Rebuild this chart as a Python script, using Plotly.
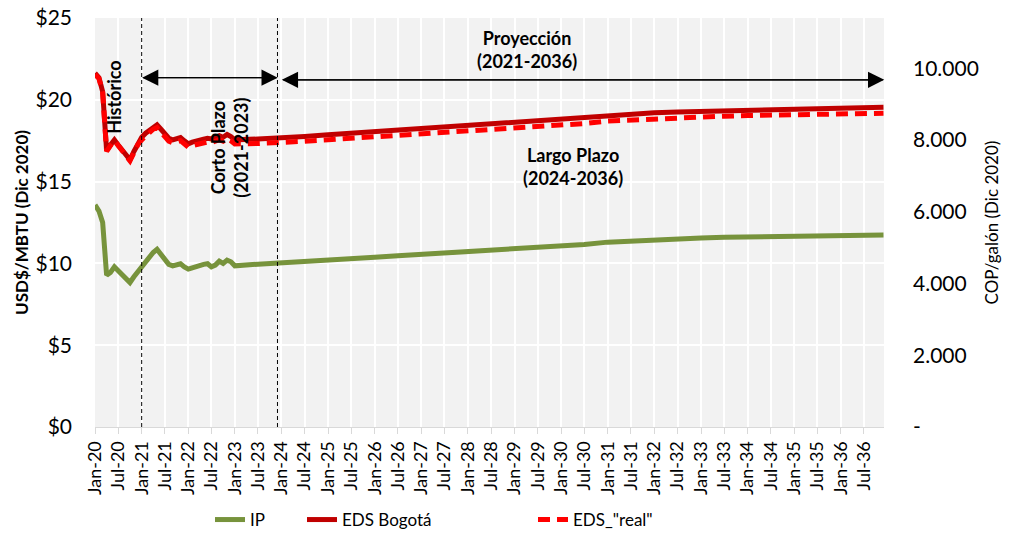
import plotly.graph_objects as go

# ---- data ----
fechas = [
    "2020-01-01", "2020-02-01", "2020-03-01", "2020-04-01", "2020-05-01", "2020-06-01",
    "2020-07-01", "2020-08-01", "2020-09-01", "2020-10-01", "2020-11-01", "2020-12-01",
    "2021-01-01", "2021-02-01", "2021-03-01", "2021-04-01", "2021-05-01", "2021-06-01",
    "2021-07-01", "2021-08-01", "2021-09-01", "2021-10-01", "2021-11-01", "2021-12-01",
    "2022-01-01", "2022-02-01", "2022-03-01", "2022-04-01", "2022-05-01", "2022-06-01",
    "2022-07-01", "2022-08-01", "2022-09-01", "2022-10-01", "2022-11-01", "2022-12-01",
    "2023-01-01", "2023-07-01",
    "2024-01-01", "2024-07-01", "2025-01-01", "2025-07-01", "2026-01-01", "2026-07-01",
    "2027-01-01", "2027-07-01", "2028-01-01", "2028-07-01", "2029-01-01", "2029-07-01",
    "2030-01-01", "2030-07-01", "2031-01-01", "2031-07-01", "2032-01-01", "2032-07-01",
    "2033-01-01", "2033-07-01", "2034-01-01", "2034-07-01", "2035-01-01", "2035-07-01",
    "2036-01-01", "2036-07-01", "2036-12-01",
]

# IP, USD$/MBTU (left axis)
ip = [
    13.57, 13.20, 12.50, 9.28, 9.45, 9.79, 9.55, 9.28, 9.05, 8.83, 9.18, 9.50,
    9.79, 10.10, 10.40, 10.67, 10.86, 10.55, 10.20, 9.94, 9.85, 9.90, 9.98, 9.79,
    9.65, 9.73, 9.81, 9.85, 9.94, 9.98, 9.79, 9.90, 10.14, 10.00, 10.20, 10.10,
    9.85, 9.95,
    10.05, 10.13, 10.22, 10.30, 10.38, 10.46, 10.54, 10.63, 10.72, 10.80, 10.89, 10.97,
    11.06, 11.16, 11.30, 11.38, 11.45, 11.51, 11.56, 11.60, 11.63, 11.65, 11.68, 11.70,
    11.72, 11.73, 11.74,
]

# EDS Bogotá, COP/galón (right axis)
eds_bogota = [
    9863, 9736, 9348, 7706, 7861, 8003, 7861, 7725, 7583, 7446, 7679, 7912,
    8076, 8190, 8263, 8377, 8422, 8299, 8172, 8048, 8003, 8021, 8067, 7975,
    7893, 7939, 7975, 7985, 8021, 8048, 8030, 8076, 8117, 8076, 8153, 8094,
    8003, 8026,
    8053, 8099, 8144, 8190, 8235, 8276, 8322, 8363, 8404, 8450, 8491, 8536,
    8582, 8632, 8700, 8732, 8760, 8783, 8801, 8819, 8837, 8851, 8865, 8878,
    8892, 8906, 8915,
]

# EDS_"real", COP/galón (right axis)
eds_real = [
    9827, 9713, 9325, 7684, 7843, 7980, 7843, 7697, 7556, 7419, 7643, 7866,
    8003, 8117, 8190, 8299, 8345, 8217, 8089, 7966, 7921, 7934, 7980, 7889,
    7798, 7843, 7875, 7880, 7916, 7944, 7925, 7966, 8007, 7966, 8044, 7980,
    7889, 7902,
    7925, 7966, 8007, 8048, 8089, 8126, 8162, 8199, 8235, 8272, 8308, 8354,
    8404, 8459, 8527, 8559, 8591, 8618, 8641, 8664, 8682, 8696, 8710, 8723,
    8732, 8742, 8746,
]

left_ticks = [0, 5, 10, 15, 20, 25]
left_labels = ["$0", "$5", "$10", "$15", "$20", "$25"]
right_ticks = [0, 2000, 4000, 6000, 8000, 10000]
right_labels = ["-", "2.000", "4.000", "6.000", "8.000", "10.000"]

FONT = "Lato, 'Liberation Sans', sans-serif"

W, H = 1010, 550

fig = go.Figure()
fig.add_trace(go.Scatter(x=fechas, y=ip, name="IP", mode="lines",
                         line=dict(color="#77933C", width=5), legend="legend"))
fig.add_trace(go.Scatter(x=fechas, y=eds_bogota, name="EDS Bogotá", mode="lines",
                         yaxis="y2", line=dict(color="#C00000", width=5),
                         legend="legend2"))
fig.add_trace(go.Scatter(x=fechas, y=eds_real, name='EDS_"real"', mode="lines",
                         yaxis="y2", line=dict(color="#FF0000", width=5, dash="12px,7px"),
                         legend="legend3"))

# vertical dashed separators
for xd in ["2021-01-01", "2023-12-01"]:
    fig.add_shape(type="line", xref="x", yref="paper", x0=xd, x1=xd, y0=0, y1=1,
                  line=dict(color="black", width=1, dash="4px,3px"))

# double arrows
def double_arrow(xa, xb, yv):
    for tip, tail in ((xa, xb), (xb, xa)):
        fig.add_annotation(x=tip, y=yv, ax=tail, ay=yv, xref="x", yref="y",
                           axref="x", ayref="y", text="", showarrow=True,
                           arrowhead=2, arrowsize=2.5, arrowwidth=1.3,
                           arrowcolor="black", standoff=0, startstandoff=0)

double_arrow("2019-11-07", "2020-12-19", 25.2)
double_arrow("2020-12-19", "2036-12-07", 25.2)
double_arrow("2021-01-04", "2023-12-03", 21.35)
double_arrow("2024-01-04", "2036-12-07", 21.22)

txt = dict(font=dict(family=FONT, size=18, color="black"), showarrow=False,
           xref="x", yref="y")
fig.add_annotation(x="2020-05-28", y=20.18, text="<b>Histórico</b>", textangle=-90, **txt)
fig.add_annotation(x="2022-11-22", y=17.06, text="<b>Corto Plazo<br>(2021-2023)</b>",
                   textangle=-90, **txt)
fig.add_annotation(x="2029-04-12", y=23.09, text="<b>Proyección<br>(2021-2036)</b>", **txt)
fig.add_annotation(x="2030-04-07", y=15.93, text="<b>Largo Plazo<br>(2024-2036)</b>", **txt)

legend_common = dict(orientation="h", yanchor="middle", y=1 - 520 / H, yref="container",
                     xanchor="left", xref="container",
                     font=dict(family=FONT, size=17, color="black"),
                     bgcolor="rgba(0,0,0,0)")

fig.update_layout(
    width=W, height=H,
    margin=dict(l=95, r=126, t=18, b=123, autoexpand=False),
    paper_bgcolor="white", plot_bgcolor="#F2F2F2",
    font=dict(family=FONT, color="black"),
    showlegend=True,
    legend=dict(x=210 / W, **legend_common),
    legend2=dict(x=302 / W, **legend_common),
    legend3=dict(x=533 / W, **legend_common),
    xaxis=dict(type="date", range=["2020-01-01", "2036-12-05"], automargin=False,
               tick0="2020-01-01", dtick="M6", tickformat="%b-%y", tickangle=-90,
               tickfont=dict(family=FONT, size=18, color="black"),
               showgrid=True, gridcolor="white", gridwidth=2,
               showline=True, linecolor="#D9D9D9", linewidth=1,
               ticks="outside", ticklen=6, tickcolor="#D9D9D9", zeroline=False),
    yaxis=dict(range=[0, 25], tickvals=left_ticks, ticktext=left_labels, automargin=False,
               tickfont=dict(family=FONT, size=21, color="black"),
               ticklabeloverflow="allow",
               showgrid=True, gridcolor="white", gridwidth=2, zeroline=False,
               showline=False, ticks="", ticklabelstandoff=22,
               title=dict(text="<b>USD$/MBTU (Dic 2020)</b>",
                          font=dict(family=FONT, size=17, color="black"), standoff=2)),
    yaxis2=dict(range=[0, 11400], overlaying="y", side="right", anchor="x",
                automargin=False,
                tickvals=right_ticks, ticktext=right_labels,
                tickfont=dict(family=FONT, size=21, color="black"),
                ticklabeloverflow="allow",
                showgrid=False, zeroline=False, showline=False, ticks="",
                ticklabelstandoff=28,
                title=dict(text="COP/galón (Dic 2020)",
                           font=dict(family=FONT, size=17, color="black"), standoff=8)),
)

# remove the page's default body margin so the figure fills the window exactly
fig.write_html("out.html", config={"displayModeBar": False},
               post_script="document.body.style.margin='0px';document.body.style.overflow='hidden';")
